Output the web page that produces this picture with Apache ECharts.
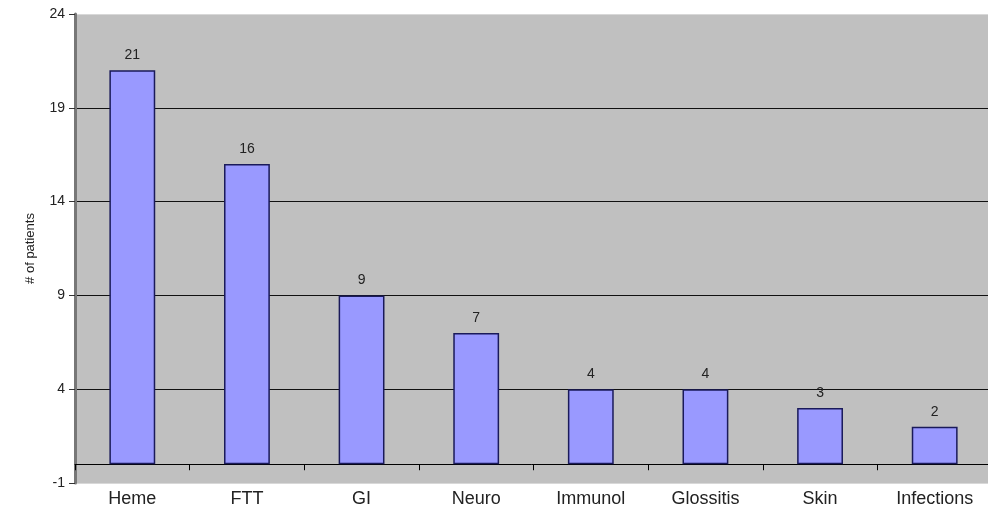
<!DOCTYPE html>
<html>
<head>
<meta charset="utf-8">
<script src="https://cdn.jsdelivr.net/npm/echarts@6/dist/echarts.min.js"></script>
<style>
  html, body { margin: 0; padding: 0; background: #fff; }
  #main { width: 988px; height: 514px; }
</style>
</head>
<body>
<div id="main"></div>
<script>
// 数据
var categories = ['Heme', 'FTT', 'GI', 'Neuro', 'Immunol', 'Glossitis', 'Skin', 'Infections'];
var patients = [21, 16, 9, 7, 4, 4, 3, 2];
var yTicks = [-1, 4, 9, 14, 19, 24];

var chart = echarts.init(document.getElementById('main'));
chart.setOption({
    backgroundColor: '#fff',
    animation: false,
    grid: {
        left: 75,
        right: -4,
        top: 14,
        bottom: 31,
        outerBoundsMode: 'none',
        containLabel: false,
        show: true,
        backgroundColor: '#c0c0c0',
        borderWidth: 0
    },
    xAxis: {
        type: 'category',
        data: categories,
        axisLine: { onZero: true, lineStyle: { color: '#000', width: 1 } },
        axisTick: { show: true, length: 6, lineStyle: { color: '#000' } },
        axisLabel: {
            margin: 7,
            color: '#222',
            fontSize: 18,
            fontFamily: 'Liberation Sans, Arial, sans-serif'
        }
    },
    yAxis: {
        type: 'value',
        min: yTicks[0],
        max: yTicks[yTicks.length - 1],
        interval: 5,
        name: '# of patients',
        nameLocation: 'middle',
        nameGap: 38,
        nameTextStyle: { color: '#222', fontSize: 13, fontFamily: 'Liberation Sans, Arial, sans-serif' },
        axisLine: { show: true, lineStyle: { color: '#777', width: 3 } },
        axisTick: { show: true, length: 6, lineStyle: { color: '#333' } },
        axisLabel: { color: '#222', fontSize: 14, margin: 10, fontFamily: 'Liberation Sans, Arial, sans-serif' },
        splitLine: {
            show: true,
            lineStyle: { color: ['#d8d8d8', '#111', '#111', '#111', '#111', '#d8d8d8'], width: 1 }
        }
    },
    series: [{
        type: 'bar',
        data: patients,
        barWidth: '40%',
        itemStyle: {
            color: '#9999ff',
            borderColor: '#1a1a5a',
            borderWidth: 1.5
        },
        label: {
            show: true,
            position: 'top',
            distance: 8,
            color: '#222',
            fontSize: 14,
            fontFamily: 'Liberation Sans, Arial, sans-serif'
        }
    }]
});
</script>
</body>
</html>
